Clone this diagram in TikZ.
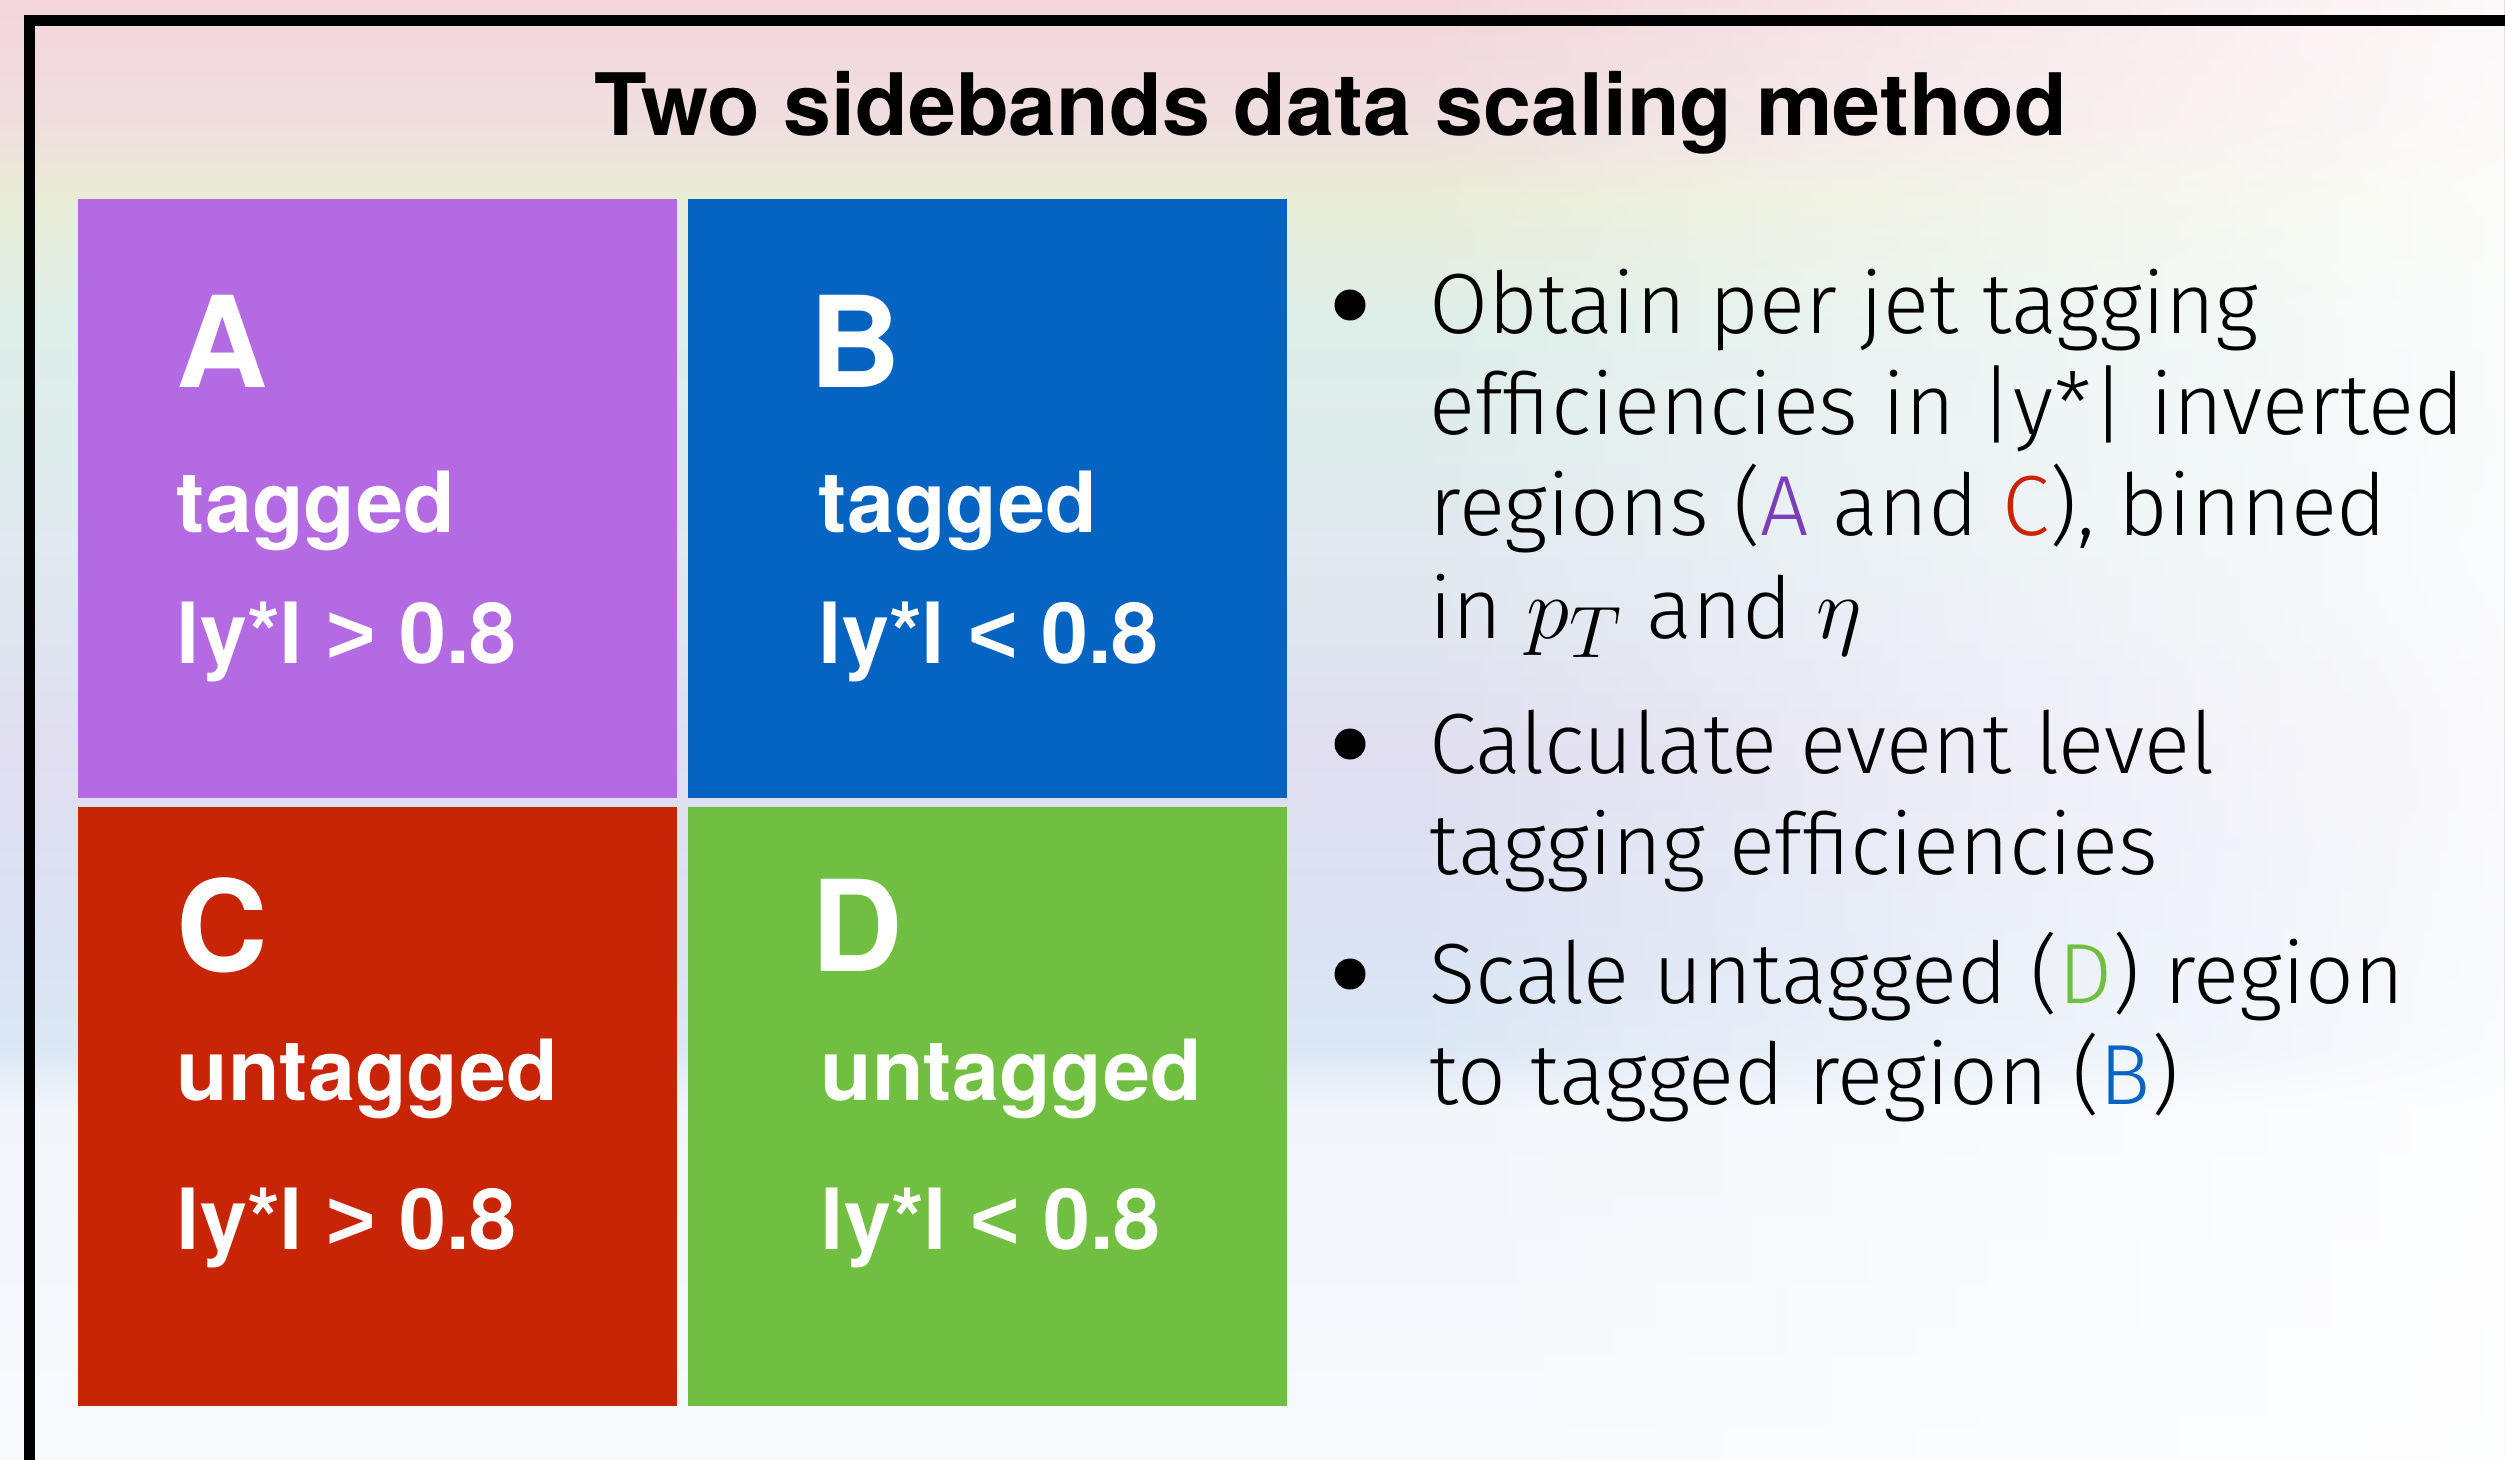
\documentclass[tikz,border=0pt]{standalone}
\usepackage{fontspec}
\setmainfont{TeX Gyre Heros}
\newfontfamily\lightfont{Fira Sans Light}
\newfontfamily\signfont{Liberation Sans}
\usetikzlibrary{fadings}

\definecolor{feldA}{HTML}{B36AE2}
\definecolor{feldB}{HTML}{0563C1}
\definecolor{feldC}{HTML}{C82506}
\definecolor{feldD}{HTML}{70BF41}
\definecolor{txtA}{HTML}{7E3DB8}

\definecolor{bgA}{HTML}{F3D5DB}
\definecolor{bgB}{HTML}{F0DEDF}
\definecolor{bgC}{HTML}{E9EDD6}
\definecolor{bgD}{HTML}{DEEEE9}
\definecolor{bgE}{HTML}{E0EAEF}
\definecolor{bgF}{HTML}{E0DEF0}
\definecolor{bgG}{HTML}{DAE3F4}
\definecolor{bgH}{HTML}{DCE8F5}
\definecolor{bgI}{HTML}{F2F6FB}
\definecolor{bgJ}{HTML}{F7FAFD}

\pgfdeclareverticalshading{pinsel}{100bp}{color(0bp)=(bgJ); color(25bp)=(bgJ);
  color(37bp)=(bgI); color(39bp)=(bgH); color(42.5bp)=(bgG); color(49.3bp)=(bgF);
  color(56.2bp)=(bgE); color(64bp)=(bgD); color(68.2bp)=(bgC); color(70.9bp)=(bgB);
  color(75bp)=(bgA); color(100bp)=(bgA)}
\tikzfading[name=fade right, left color=transparent!100, right color=transparent!0]

\newcommand{\gross}[1]{{\fontsize{30}{32}\selectfont#1}}

\begin{document}
\begin{tikzpicture}[x=0.01cm,y=-0.01cm,
  region/.style={minimum size=5.99cm,inner sep=0,outer sep=0},
  regname/.style={anchor=base west,inner sep=0,text=white,font=\fontsize{36}{40}\selectfont\bfseries},
  regtext/.style={anchor=base west,inner sep=0,text=white,font=\fontsize{24}{28}\selectfont\bfseries},
  item/.style={anchor=base west,inner sep=0,font=\lightfont\fontsize{24.3}{28}\selectfont},
  dot/.style={circle,fill=black,minimum size=0.31cm,inner sep=0}]
\useasboundingbox (0,0) rectangle (2505,1460);
\clip (0,0) rectangle (2505,1460);

% background
\shade[shading=pinsel] (0,0) rectangle (2505,1460);
\fill[white,fill opacity=0.85,path fading=fade right] (1400,0) rectangle (2505,1460);
\draw[line width=0.11cm] (29.5,1480) -- (29.5,20.5) -- (2530,20.5);

\node[anchor=base,inner sep=0,font=\fontsize{24.5}{29}\selectfont\bfseries] (title) at (1331,135)
  {Two sidebands data scaling method};

% the four regions
\foreach \n/\x/\y/\c in {A/377.5/498.5/feldA,B/987.5/498.5/feldB,
                         C/377.5/1106.5/feldC,D/987.5/1106.5/feldD}{
  \node[region,fill=\c] (\n) at (\x,\y) {};
}

\node[regname] (A-name) at (176,387) {A};
\node[regtext] (A-tag) at (176,532) {tagged};
\node[regtext] (A-cut) at (176,663) {ly*l {\signfont\bfseries >} 0.8};

\node[regname] (B-name) at (809,387) {B};
\node[regtext] (B-tag) at (818,532) {tagged};
\node[regtext] (B-cut) at (818,663) {ly*l {\signfont\bfseries <} 0.8};

\node[regname] (C-name) at (176,971) {C};
\node[regtext] (C-tag) at (176,1100) {untagged};
\node[regtext] (C-cut) at (176,1249) {ly*l {\signfont\bfseries >} 0.8};

\node[regname] (D-name) at (811,971) {D};
\node[regtext] (D-tag) at (820,1100) {untagged};
\node[regtext] (D-cut) at (820,1249) {ly*l {\signfont\bfseries <} 0.8};

% bullet points
\node[dot] (b1) at (1350,305) {};
\node[item] (l1) at (1429,333) {Obtain per jet tagging};
\node[item] (l2) at (1429,434) {efficiencies in |y*| inverted};
\node[item] (l3) at (1429,535) {regions (\textcolor{txtA}{A} and \textcolor{feldC}{C}), binned};
\node[item] (l4) at (1429,638) {in \gross{$p_T$} and \gross{$\eta$}};

\node[dot] (b2) at (1350,744) {};
\node[item] (l5) at (1429,773) {Calculate event level};
\node[item] (l6) at (1429,874) {tagging efficiencies};

\node[dot] (b3) at (1350,974) {};
\node[item] (l7) at (1429,1003) {Scale untagged (\textcolor{feldD}{D}) region};
\node[item] (l8) at (1429,1104) {to tagged region (\textcolor{feldB}{B})};
\end{tikzpicture}
\end{document}
